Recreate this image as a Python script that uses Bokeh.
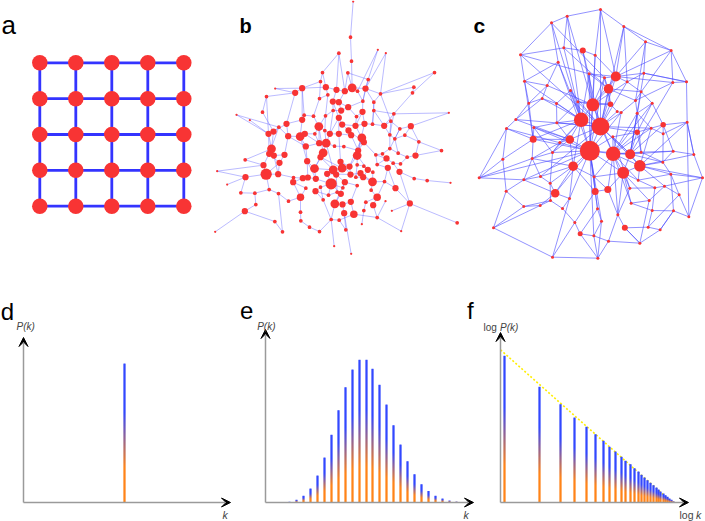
import math
import numpy as np
from bokeh.plotting import figure
from bokeh.layouts import column, row
from bokeh.models import Range1d, Arrow, VeeHead, Label
from bokeh.embed import file_html
from bokeh.resources import INLINE

# ======================= DATA =======================
# (a) regular lattice
lattice_cols = [0, 1, 2, 3, 4]
lattice_rows = [0, 1, 2, 3, 4]

# (b) random network: node layout positions, node diameters, edges
b_x = [458,450,415,453,532,556,702,366,442,360, 503,745,305,284,376,408,433,455,495,471,
       640,636,540,224,198,357,397,415,382,520, 487,443,422,186,108,311,375,339,305,415,
       398,486,520,468,580,571,148,235,258,355, 373,425,465,492,516,551,631,204,219,263,
       299,313,343,388,415,444,452,484,568,613, 598,213,316,356,377,402,430,368,490,583,
       655,568,206,220,252,360,470,473,526,546, 593,620,645,723,134,237,189,320,342,398,
       420,425,447,470,490,530,558,578,600,50, 197,233,135,279,307,322,346,380,407,450,
       480,502,517,562,597,641,680,750,80,278, 392,433,466,488,516,552,427,470,360,316,
       585,206,234,121,163,300,345,384,410,421, 512,530,264,166,300,368,403,426,451,496,
       518,628,490,555,133,431,460,574,392,416, 223,301,530,770,484,44,246,327,357,436,
       602,401,452]
b_y = [3,110,158,182,148,158,216,216,217,243, 237,337,263,277,260,268,272,262,264,272,
       260,277,280,264,288,294,303,305,283,305, 302,320,330,335,343,344,346,347,358,352,
       330,334,330,348,340,362,359,380,370,378, 390,372,376,370,371,376,377,400,393,407,
       408,400,400,400,400,390,404,412,403,404, 385,445,438,428,428,437,438,457,425,415,
       424,444,460,465,463,470,465,450,463,460, 458,470,465,450,478,487,494,482,504,508,
       484,503,498,493,497,492,474,488,490,512, 521,521,530,531,533,531,535,520,522,522,
       518,508,515,502,514,534,540,547,552,545, 550,545,530,530,544,543,562,555,560,563,
       563,567,579,577,578,590,572,584,575,580, 569,590,602,612,635,598,610,612,604,605,
       614,609,630,602,632,638,641,631,657,659, 663,661,651,667,671,694,694,680,693,688,
       692,737,760]
b_size = [1.8,3,3,3,1.8,1.8,3,3,3,3, 3,1.8,5,5,5,5,5,7,5,3, 3,3,3,1.8,3,3,5,5,3,3,
          3,5,5,3,1.8,3,3,3,5,5, 3,5,3,3,3,3,1.8,3,5,7, 3,5,5,5,3,5,5,5,5,5,
          7,5,3,5,5,5,5,7,3,3, 3,7,5,5,7,3,3,7,5,3, 3,3,5,5,5,5,7,5,3,3,
          3,3,5,3,3,5,5,5,7,7, 5,7,5,3,3,3,5,3,3,1.8, 9,5,5,3,5,5,5,5,5,5,
          5,5,3,5,5,3,3,1.8,1.8,5, 9,5,3,5,7,3,3,3,3,3, 5,3,3,3,3,6,5,3,3,5,
          3,6,3,3,3,3,7,5,5,3, 5,5,3,1.8,5,5,6,1.8,3,3, 3,3,3,3,1.8,1.8,3,3,3,3,
          1.8,1.8,1.8]
b_edges = [
    (0,1),(1,3),(3,17),(2,7),(2,15),(2,16),(4,10),(4,19),(5,18),(5,22),(6,21),(6,22),(7,14),(7,9),
    (8,17),(8,16),(8,10),(9,12),(9,25),(10,18),(10,30),(11,44),(11,56),
    (12,13),(12,14),(12,35),(13,24),(13,23),(13,48),(14,15),(14,28),(15,16),(15,26),(16,17),(16,27),
    (17,19),(17,18),(18,29),(18,22),(19,30),(20,21),(20,22),(21,44),(22,29),(22,45),(24,57),(24,33),
    (25,28),(25,37),(26,40),(26,27),(27,32),(27,31),(28,36),(29,42),(30,31),(30,41),
    (31,43),(31,32),(32,39),(32,40),(33,58),(34,47),(34,57),(35,38),(35,37),(36,49),(36,40),(37,49),
    (38,48),(38,60),(39,51),(39,64),(40,63),(41,43),(41,53),(42,54),(42,44),(43,52),(44,55),(45,55),
    (45,70),(46,57),
    (47,58),(47,59),(48,59),(48,58),(49,50),(49,73),(49,62),(50,63),(51,65),(51,52),(52,53),(52,67),
    (53,54),(54,55),(55,68),(56,70),(56,80),(56,69),(57,71),(57,82),(58,71),(59,60),(59,84),(60,61),
    (60,72),(61,62),(62,73),(63,64),(63,74),(64,66),(65,66),(66,87),(67,78),(67,86),(68,79),(68,81),
    (69,79),(70,79),
    (71,82),(71,83),(71,96),(72,97),(72,73),(73,74),(74,75),(74,77),(75,76),(76,87),(77,85),(77,98),
    (78,88),(78,87),(79,90),(80,92),(80,69),(81,89),(81,90),(82,95),(83,84),(84,95),(85,98),(85,99),
    (86,87),(86,103),(86,102),(88,89),(88,105),(90,91),(91,92),(91,108),(92,93),(93,80),(94,96),(94,71),
    (95,111),(95,110),(96,110),(97,98),(97,115),(98,116),(98,99),(99,101),(99,117),(100,101),(100,102),
    (101,118),(102,119),(103,104),(104,121),(105,106),(105,123),(106,107),(107,108),(107,124),(109,96),
    (109,112),(110,111),(110,112),(110,141),(111,113),(113,114),(114,115),(115,116),(116,130),(117,130),
    (118,131),(119,120),(120,133),(121,122),(122,134),(123,135),(124,125),(125,126),(126,127),(128,112),
    (129,145),(129,113),(129,139),(130,138),(130,147),(130,136),(131,136),(131,137),(132,133),(133,134),
    (134,135),(134,150),(135,140),(137,158),(138,146),(139,145),(140,161),(141,142),(142,152),(143,112),
    (143,144),(144,141),(145,152),(145,154),(146,155),(147,148),(148,149),(149,156),(150,151),(151,160),
    (153,144),(153,164),(154,171),(155,168),(156,157),(156,168),(157,165),(158,166),(159,162),(159,151),
    (160,172),(161,124),(161,173),(162,174),(163,172),(164,175),(164,170),(165,179),(165,182),(166,172),
    (167,161),(168,181),(169,166),(170,176),(171,177),(176,142),(177,178),(178,168),(179,169),(180,172),
    (180,161),(168,169),
    (12,38),(49,77),(60,97),(64,100),(67,102),(53,87),(26,39),(36,50),(61,73),(74,99),(85,101),(114,129),
    (117,119),(130,149),(131,156),(100,119),(120,134),(121,133),(65,78),(39,63),(50,74),(23,12),(47,82),
    (59,72),(83,111),(97,116),(146,147),(138,155),(118,148),(157,158),(103,132),(86,121),(123,140),
    (135,151),(106,88),(41,52),(29,54),(18,30),(45,68),(70,81),(44,68),(42,55)]

# (c) scale-free network
c_x = [420,320,273,490,555,180,310,367,404,632, 293,466,386,432,500,550,192,637,678,260,
       444,330,542,245,352,397,450,205,288,575, 525,166,362,420,289,220,138,482,530,608,
       572,680,530,218,328,298,388,458,509,542, 638,700,276,215,127,338,538,488,607,631,
       726,56,190,240,401,533,269,404,442,284, 137,583,612,656,327,239,190,306,411,512,
       639,575,472,343,423,493,563,599,685,99, 359,400,444,538,276,412,457,508,470,270,
       566,608]
c_y = [27,47,67,78,124,163,142,150,164,150, 185,228,220,232,244,218,242,246,244,255,
       265,270,274,294,304,313,311,308,309,308, 300,357,358,378,367,381,384,336,338,373,
       383,365,395,416,417,426,451,460,461,455, 452,462,456,474,476,497,496,517,485,521,
       532,532,538,528,529,539,548,573,567,578, 572,562,557,583,594,615,618,624,625,608,
       631,630,643,666,662,682,680,688,649,682, 700,706,722,728,770,773,409,563,333,600,
       600,400]
c_size = [3,3,3,3,3,3,3,6,3,3, 3,10,3,3,3,3,3,3,3,3, 9.5,3,3,3,3,13,5.5,3,3,3,
          3,3,14.5,18,3,3,3,3,3,5.5, 3,3,5.5,7,8.5,3,20,14.5,10,3, 3,3,3,3,3,9.5,11.5,12,3,3,
          3,3,3,3,3,3,3,7,7,8.5, 3,3,3,3,3,3,3,3,3,3, 3,3,3,3,3,6,3,3,3,3,
          5,3,3,3,3,3,3,3,3,3, 3,3]
c_edges = [
    (46,33),(46,32),(46,25),(46,47),(46,44),(46,55),(46,67),(46,64),(46,12),(46,8),(46,35),(46,43),
    (46,52),(46,62),(46,69),(46,74),(46,78),(46,84),(46,57),(46,48),(46,96),(46,37),(46,13),(46,36),
    (46,91),(46,61),(46,10),
    (33,25),(33,32),(33,20),(33,11),(33,0),(33,7),(33,24),(33,26),(33,37),(33,47),(33,48),(33,42),
    (33,56),(33,44),(33,34),(33,21),(33,14),(33,3),(33,98),(33,40),(33,5),(33,31),(33,63),
    (32,25),(32,24),(32,21),(32,28),(32,34),(32,23),(32,16),(32,6),(32,10),(32,2),(32,44),(32,55),
    (32,52),(32,43),(32,45),(32,1),(32,12),
    (25,20),(25,12),(25,7),(25,8),(25,13),(25,11),(25,24),(25,26),(25,14),(25,1),(25,19),(25,47),
    (47,48),(47,57),(47,56),(47,42),(47,37),(47,96),(47,68),(47,82),(47,64),(47,49),(47,38),(47,40),
    (47,29),(47,65),(47,79),
    (48,56),(48,57),(48,49),(48,38),(48,42),(48,39),(48,50),(48,58),(48,22),(48,17),(48,15),
    (56,57),(56,58),(56,59),(56,65),(56,72),(56,60),(56,51),(56,40),(56,41),
    (57,65),(57,97),(57,68),(57,79),(57,82),(57,64),
    (11,20),(11,3),(11,4),(11,13),(11,14),(11,15),(11,8),(11,9),(11,17),(11,0),(11,12),
    (20,13),(20,26),(20,22),(20,30),(20,6),(20,12),
    (44,45),(44,34),(44,55),(44,52),(44,43),(44,35),(44,31),
    (55,66),(55,69),(55,74),(55,63),(55,53),(55,64),(55,67),
    (43,35),(43,36),(43,53),(43,54),(43,27),(43,16),
    (0,1),(0,3),(0,8),(1,2),(1,6),(2,5),(2,10),(3,4),(3,9),(4,9),(4,15),(5,16),(5,6),(6,7),(7,8),
    (9,17),(9,18),(10,19),(12,13),(14,15),(15,18),(16,19),(16,27),(17,18),(18,41),(19,23),(21,24),
    (22,29),(22,30),(23,27),(23,28),(24,26),(27,31),(28,34),(29,39),(29,38),(30,37),(30,38),(31,36),
    (34,35),(36,54),(36,61),(37,98),(38,40),(39,40),(39,41),(39,50),(40,42),(41,51),(42,49),(45,52),
    (49,50),(50,51),(50,58),(51,60),(52,53),(53,62),(54,61),(54,70),(58,59),(59,60),(59,73),(60,88),
    (61,62),(62,63),(62,70),(63,66),(64,67),(65,71),(66,69),(67,68),(67,78),(68,82),(69,74),(69,75),
    (70,76),(70,89),(71,72),(71,81),(72,73),(73,88),(74,77),(75,76),(75,99),(76,89),(77,83),(78,84),
    (79,81),(79,100),(80,81),(80,88),(80,87),(81,86),(82,85),(83,90),(83,94),(84,91),(85,86),(85,93),
    (86,87),(87,93),(89,94),(90,91),(91,92),(91,95),(92,95),(92,93),(93,85),(94,95),(96,97),(97,71),
    (99,77),(100,72),(101,39),(101,58),(98,26),(13,26),(14,22),(21,28),(19,27),(24,34),(45,53),(52,66),
    (53,63),(64,68),(96,42),(96,48),(97,82),
    (5,12),(2,13),(61,53),(89,75),(94,74),(95,84),(95,90),(88,41),(60,72),(51,41),(18,15),(3,14),
    (4,30),(9,22),(17,30),(16,10),(31,23),(35,52),(62,69),(76,99),(99,66),(83,67),(90,78),(92,82),
    (93,100),(86,73),(87,80),(80,59),(57,100),(65,59),(49,58),(40,101),(101,41),(29,42),(38,49)]

# (d) lattice degree distribution
d_k = [4]
d_p = [1.0]

# (e) random network degree distribution (Poisson-like)
e_k = list(range(1, 26))
e_p = [0.0005, 0.0019, 0.0048, 0.0101, 0.0195, 0.0324, 0.0488, 0.0665, 0.0831, 0.0958,
       0.1028, 0.1028, 0.0963, 0.0848, 0.0706, 0.0557, 0.0418, 0.0298, 0.0204, 0.0132,
       0.0082, 0.0048, 0.0029, 0.0014, 0.0007]

# (f) scale-free degree distribution, log P(k) above the baseline (arbitrary units)
f_k = list(range(1, 29))
f_logp = [146.7, 115.7, 98.3, 85.0, 75.7, 68.3, 61.7, 55.7, 51.0, 45.7, 41.7, 38.3, 34.3, 31.0,
          27.7, 25.0, 22.3, 19.7, 17.3, 15.0, 13.0, 11.0, 9.0, 7.3, 5.7, 4.0, 2.7, 1.3]
f_fit_k = [0.918, 27.5]
f_fit_logp = [152.7, 0.0]

# ======================= STYLE / LAYOUT =======================
FONT = "Liberation Sans"
RED = "#f83434"

TOP_W = [205, 255, 245]
TOP_H = 280
BOT_W = [238, 242, 225]
BOT_H = 241
top_left = [0, 205, 460, 705]
bot_left = [0, 238, 480, 705]
top_bottom = 280  # reference y where the bottom row begins


def panel(w, h, xr, yr, log_x=False):
    p = figure(width=w, height=h, x_range=Range1d(*xr), y_range=Range1d(*yr),
               x_axis_type="log" if log_x else "linear",
               x_axis_location=None, y_axis_location=None,
               toolbar_location=None, output_backend="svg", min_border=0,
               outline_line_color=None, background_fill_color="white",
               border_fill_color="white")
    p.grid.visible = False
    return p


def label(p, x, y, text, size, style="normal", color="black", align="left"):
    p.add_layout(Label(x=x, y=y, text=text, text_font=FONT,
                       text_font_size="%.1fpx" % size, text_font_style=style,
                       text_color=color, text_align=align, text_baseline="alphabetic"))


BLUE = np.array([50, 72, 255])
ORANGE = np.array([255, 132, 25])


def snapped_edges(p, xs, width_px, log_x=False):
    """Left/right bar edges snapped to whole screen pixels of figure p."""
    s, e, w = p.x_range.start, p.x_range.end, p.width
    fwd = (lambda v: math.log(v)) if log_x else (lambda v: v)
    inv = (lambda v: math.exp(v)) if log_x else (lambda v: v)
    a, b = fwd(s), fwd(e)
    lefts, rights = [], []
    for x in xs:
        px = (fwd(x) - a) / (b - a) * w
        lpx = round(px - width_px / 2.0)
        lefts.append(inv(a + lpx / w * (b - a)))
        rights.append(inv(a + (lpx + width_px) / w * (b - a)))
    return lefts, rights


def grad_bars(p, xs, hs, unit_px, width_px=2, log_x=False):
    """Bars with an orange-to-blue gradient, each cut into one-pixel slices."""
    lefts, rights = snapped_edges(p, xs, width_px, log_x)
    l, r, b, t, cols = [], [], [], [], []
    for lf, rt, h in zip(lefts, rights, hs):
        hp = h / unit_px
        m = max(1, int(math.ceil(hp - 1e-9)))
        for j in range(m):
            f = min((j + 0.5) / hp, 1.0)
            w = min(max((f - 0.25) / 0.4, 0.0), 1.0)
            c = ORANGE * (1 - w) + BLUE * w
            l.append(lf); r.append(rt)
            b.append(j * unit_px)
            t.append(min((j + 1.5) * unit_px, h))
            cols.append("#%02x%02x%02x" % tuple(int(round(v)) for v in c))
    p.quad(left=l, right=r, bottom=b, top=t, fill_color=cols, line_color=None)


def axes_arrows(p, x0, y_top, x_end):
    for (xa, ya, xb, yb) in [(x0, 0, x0, y_top), (x0, 0, x_end, 0)]:
        p.add_layout(Arrow(end=VeeHead(size=9, fill_color="black", line_color="black", line_width=1),
                           x_start=xa, y_start=ya, x_end=xb, y_end=yb,
                           line_color="#9a9a9a", line_width=1.5))


# ---------- (a) lattice ----------
ax = lambda r: (r - 39.3) / 36.0
ay = lambda r: (r - 62.3) / 35.85
pa = panel(TOP_W[0], TOP_H, (ax(top_left[0]), ax(top_left[1])), (ay(top_bottom), ay(0)))
ex0, ey0, ex1, ey1 = [], [], [], []
for i in lattice_cols:
    for j in lattice_rows:
        if i < lattice_cols[-1]:
            ex0.append(i); ey0.append(j); ex1.append(i + 1); ey1.append(j)
        if j < lattice_rows[-1]:
            ex0.append(i); ey0.append(j); ex1.append(i); ey1.append(j + 1)
pa.segment(x0=ex0, y0=ey0, x1=ex1, y1=ey1, line_color="#3434ff", line_width=2.8)
nx = [i for i in lattice_cols for j in lattice_rows]
ny = [j for i in lattice_cols for j in lattice_rows]
pa.scatter(nx, ny, size=15.5, fill_color=RED, line_color=None)
label(pa, ax(1), ay(24.5), "a", 26)

# ---------- (b) random network ----------
bx = lambda r: (r - 200) * 3.0
by = lambda r: r * 3.0
pb = panel(TOP_W[1], TOP_H, (bx(top_left[1]), bx(top_left[2])), (by(top_bottom), by(0)))
pb.segment(x0=[b_x[i] for i, j in b_edges], y0=[b_y[i] for i, j in b_edges],
           x1=[b_x[j] for i, j in b_edges], y1=[b_y[j] for i, j in b_edges],
           line_color="#4a4aff", line_alpha=0.42, line_width=0.9)
pb.scatter(b_x, b_y, size=[s * 1.25 for s in b_size], fill_color=RED, line_color=None)
label(pb, bx(239), by(25), "b", 20, style="bold")

# ---------- (c) scale-free network ----------
cx = lambda r: (r - 460) * 3.0
cy = lambda r: r * 3.0
pc = panel(TOP_W[2], TOP_H, (cx(top_left[2]), cx(top_left[3])), (cy(top_bottom), cy(0)))
pc.segment(x0=[c_x[i] for i, j in c_edges], y0=[c_y[i] for i, j in c_edges],
           x1=[c_x[j] for i, j in c_edges], y1=[c_y[j] for i, j in c_edges],
           line_color="#4a4aff", line_alpha=0.6, line_width=1.0)
pc.scatter(c_x, c_y, size=c_size, fill_color=RED, line_color=None)
label(pc, cx(473), cy(24.5), "c", 21, style="bold")

# ---------- (d) delta distribution ----------
dx = lambda r: (r - 23) / 25.25
dy = lambda r: (502 - r) / 139.0
pd_ = panel(BOT_W[0], BOT_H, (dx(bot_left[0]), dx(bot_left[1])), (dy(521), dy(top_bottom)))
grad_bars(pd_, d_k, d_p, 1 / 139.0, width_px=2)
axes_arrows(pd_, 0.0, dy(337), dx(230))
label(pd_, dx(0.3), dy(311), "d", 24)
label(pd_, dx(16), dy(325.5), "P(k)", 10, style="italic", color="#444444")
label(pd_, dx(222), dy(514), "k", 10.5, style="italic", color="#444444")

# ---------- (e) Poisson distribution ----------
exm = lambda r: (r - 282.4) / 6.93
eym = lambda r: (502 - r) / 1388.0
pe = panel(BOT_W[1], BOT_H, (exm(bot_left[1]), exm(bot_left[2])), (eym(521), eym(top_bottom)))
grad_bars(pe, e_k, e_p, 1 / 1388.0, width_px=2)
axes_arrows(pe, exm(265), eym(329), exm(473))
label(pe, exm(239.5), eym(310), "e", 24)
label(pe, exm(466.5), eym(310), "f", 24)
label(pe, exm(256.7), eym(325.5), "P(k)", 10, style="italic", color="#444444")
label(pe, exm(463), eym(514.5), "k", 10.5, style="italic", color="#444444")

# ---------- (f) power law ----------
fxm = lambda r: 2 ** ((r - 504.3) / 35.0)
fym = lambda r: 502 - r
pf = panel(BOT_W[2], BOT_H, (fxm(bot_left[2]), fxm(bot_left[3])), (fym(521), fym(top_bottom)), log_x=True)
pf.line(f_fit_k, f_fit_logp, line_color="#ffee00", line_width=1.6, line_dash="2 2")
grad_bars(pf, f_k, f_logp, 1.0, width_px=2, log_x=True)
axes_arrows(pf, fxm(500), fym(332), fxm(688))
label(pf, fxm(483), fym(327), "log", 10, color="#444444")
label(pf, fxm(499.5), fym(327), "P(k)", 10, style="italic", color="#444444")
label(pf, fxm(679), fym(514.5), "log", 10.5, color="#444444")
label(pf, fxm(695.5), fym(514.5), "k", 10.5, style="italic", color="#444444")

layout = column(row(pa, pb, pc), row(pd_, pe, pf))
open("out.html", "w").write(file_html(layout, INLINE))
